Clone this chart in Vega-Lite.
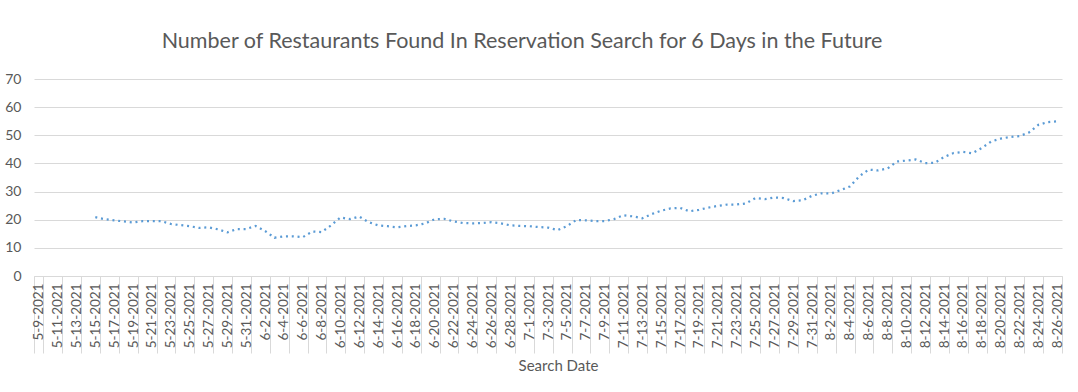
{
  "$schema": "https://vega.github.io/schema/vega-lite/v6.json",
  "width": 1028,
  "height": 197,
  "autosize": {"type": "none"},
  "padding": {"left": 34, "top": 79, "right": 16, "bottom": 116},
  "background": "white",
  "title": {
    "text": "Number of Restaurants Found In Reservation Search for 6 Days in the Future",
    "font": "Lato",
    "fontSize": 21.5,
    "fontWeight": "normal",
    "color": "#595959",
    "anchor": "middle",
    "dx": -26,
    "offset": 20
  },
  "config": {
    "view": {"stroke": null},
    "font": "Lato"
  },
  "data": {
    "values": [
      {"date": "5-15-2021", "count": 20.9},
      {"date": "5-16-2021", "count": 20.2},
      {"date": "5-17-2021", "count": 19.8},
      {"date": "5-18-2021", "count": 19.4},
      {"date": "5-19-2021", "count": 19.0},
      {"date": "5-20-2021", "count": 19.5},
      {"date": "5-21-2021", "count": 19.5},
      {"date": "5-22-2021", "count": 19.5},
      {"date": "5-23-2021", "count": 18.5},
      {"date": "5-24-2021", "count": 18.1},
      {"date": "5-25-2021", "count": 17.7},
      {"date": "5-26-2021", "count": 17.1},
      {"date": "5-27-2021", "count": 17.3},
      {"date": "5-28-2021", "count": 16.6},
      {"date": "5-29-2021", "count": 15.5},
      {"date": "5-30-2021", "count": 16.7},
      {"date": "5-31-2021", "count": 16.7},
      {"date": "6-1-2021", "count": 17.8},
      {"date": "6-2-2021", "count": 16.0},
      {"date": "6-3-2021", "count": 13.6},
      {"date": "6-4-2021", "count": 14.1},
      {"date": "6-5-2021", "count": 14.1},
      {"date": "6-6-2021", "count": 13.8},
      {"date": "6-7-2021", "count": 15.8},
      {"date": "6-8-2021", "count": 15.6},
      {"date": "6-9-2021", "count": 18.0},
      {"date": "6-10-2021", "count": 20.8},
      {"date": "6-11-2021", "count": 20.2},
      {"date": "6-12-2021", "count": 21.1},
      {"date": "6-13-2021", "count": 19.1},
      {"date": "6-14-2021", "count": 18.0},
      {"date": "6-15-2021", "count": 17.7},
      {"date": "6-16-2021", "count": 17.3},
      {"date": "6-17-2021", "count": 17.7},
      {"date": "6-18-2021", "count": 18.0},
      {"date": "6-19-2021", "count": 18.7},
      {"date": "6-20-2021", "count": 20.2},
      {"date": "6-21-2021", "count": 20.3},
      {"date": "6-22-2021", "count": 19.4},
      {"date": "6-23-2021", "count": 18.8},
      {"date": "6-24-2021", "count": 18.7},
      {"date": "6-25-2021", "count": 18.8},
      {"date": "6-26-2021", "count": 19.1},
      {"date": "6-27-2021", "count": 18.7},
      {"date": "6-28-2021", "count": 18.0},
      {"date": "6-29-2021", "count": 17.8},
      {"date": "7-1-2021", "count": 17.7},
      {"date": "7-2-2021", "count": 17.4},
      {"date": "7-3-2021", "count": 17.2},
      {"date": "7-4-2021", "count": 16.3},
      {"date": "7-5-2021", "count": 17.7},
      {"date": "7-6-2021", "count": 19.9},
      {"date": "7-7-2021", "count": 19.8},
      {"date": "7-8-2021", "count": 19.5},
      {"date": "7-9-2021", "count": 19.5},
      {"date": "7-10-2021", "count": 20.2},
      {"date": "7-11-2021", "count": 21.6},
      {"date": "7-12-2021", "count": 21.2},
      {"date": "7-13-2021", "count": 20.5},
      {"date": "7-14-2021", "count": 22.0},
      {"date": "7-15-2021", "count": 23.2},
      {"date": "7-16-2021", "count": 24.0},
      {"date": "7-17-2021", "count": 24.2},
      {"date": "7-18-2021", "count": 23.0},
      {"date": "7-19-2021", "count": 23.5},
      {"date": "7-20-2021", "count": 24.3},
      {"date": "7-21-2021", "count": 24.9},
      {"date": "7-22-2021", "count": 25.4},
      {"date": "7-23-2021", "count": 25.4},
      {"date": "7-24-2021", "count": 25.8},
      {"date": "7-25-2021", "count": 27.7},
      {"date": "7-26-2021", "count": 27.3},
      {"date": "7-27-2021", "count": 27.9},
      {"date": "7-28-2021", "count": 27.7},
      {"date": "7-29-2021", "count": 26.6},
      {"date": "7-30-2021", "count": 26.9},
      {"date": "7-31-2021", "count": 28.5},
      {"date": "8-1-2021", "count": 29.4},
      {"date": "8-2-2021", "count": 29.3},
      {"date": "8-3-2021", "count": 30.5},
      {"date": "8-4-2021", "count": 31.8},
      {"date": "8-5-2021", "count": 35.4},
      {"date": "8-6-2021", "count": 37.8},
      {"date": "8-7-2021", "count": 37.5},
      {"date": "8-8-2021", "count": 38.2},
      {"date": "8-9-2021", "count": 40.7},
      {"date": "8-10-2021", "count": 41.0},
      {"date": "8-11-2021", "count": 41.4},
      {"date": "8-12-2021", "count": 40.1},
      {"date": "8-13-2021", "count": 40.2},
      {"date": "8-14-2021", "count": 42.3},
      {"date": "8-15-2021", "count": 43.7},
      {"date": "8-16-2021", "count": 44.1},
      {"date": "8-17-2021", "count": 43.6},
      {"date": "8-18-2021", "count": 45.5},
      {"date": "8-19-2021", "count": 47.8},
      {"date": "8-20-2021", "count": 48.8},
      {"date": "8-21-2021", "count": 49.4},
      {"date": "8-22-2021", "count": 49.7},
      {"date": "8-23-2021", "count": 51.0},
      {"date": "8-24-2021", "count": 53.7},
      {"date": "8-25-2021", "count": 54.7},
      {"date": "8-26-2021", "count": 55.0}
    ]
  },
  "mark": {
    "type": "line",
    "color": "#5b9bd5",
    "strokeWidth": 2.25,
    "strokeDash": [2, 3.8],
    "strokeCap": "butt",
    "interpolate": "linear"
  },
  "encoding": {
    "x": {
      "field": "date",
      "type": "ordinal",
      "bandPosition": 0.5,
      "title": "Search Date",
      "scale": {
        "type": "band",
        "paddingInner": 0,
        "paddingOuter": 0,
        "domain": ["5-9-2021","5-10-2021","5-11-2021","5-12-2021","5-13-2021","5-14-2021","5-15-2021","5-16-2021","5-17-2021","5-18-2021","5-19-2021","5-20-2021","5-21-2021","5-22-2021","5-23-2021","5-24-2021","5-25-2021","5-26-2021","5-27-2021","5-28-2021","5-29-2021","5-30-2021","5-31-2021","6-1-2021","6-2-2021","6-3-2021","6-4-2021","6-5-2021","6-6-2021","6-7-2021","6-8-2021","6-9-2021","6-10-2021","6-11-2021","6-12-2021","6-13-2021","6-14-2021","6-15-2021","6-16-2021","6-17-2021","6-18-2021","6-19-2021","6-20-2021","6-21-2021","6-22-2021","6-23-2021","6-24-2021","6-25-2021","6-26-2021","6-27-2021","6-28-2021","6-29-2021","7-1-2021","7-2-2021","7-3-2021","7-4-2021","7-5-2021","7-6-2021","7-7-2021","7-8-2021","7-9-2021","7-10-2021","7-11-2021","7-12-2021","7-13-2021","7-14-2021","7-15-2021","7-16-2021","7-17-2021","7-18-2021","7-19-2021","7-20-2021","7-21-2021","7-22-2021","7-23-2021","7-24-2021","7-25-2021","7-26-2021","7-27-2021","7-28-2021","7-29-2021","7-30-2021","7-31-2021","8-1-2021","8-2-2021","8-3-2021","8-4-2021","8-5-2021","8-6-2021","8-7-2021","8-8-2021","8-9-2021","8-10-2021","8-11-2021","8-12-2021","8-13-2021","8-14-2021","8-15-2021","8-16-2021","8-17-2021","8-18-2021","8-19-2021","8-20-2021","8-21-2021","8-22-2021","8-23-2021","8-24-2021","8-25-2021","8-26-2021"]
      },
      "axis": {
        "values": ["5-9-2021","5-11-2021","5-13-2021","5-15-2021","5-17-2021","5-19-2021","5-21-2021","5-23-2021","5-25-2021","5-27-2021","5-29-2021","5-31-2021","6-2-2021","6-4-2021","6-6-2021","6-8-2021","6-10-2021","6-12-2021","6-14-2021","6-16-2021","6-18-2021","6-20-2021","6-22-2021","6-24-2021","6-26-2021","6-28-2021","7-1-2021","7-3-2021","7-5-2021","7-7-2021","7-9-2021","7-11-2021","7-13-2021","7-15-2021","7-17-2021","7-19-2021","7-21-2021","7-23-2021","7-25-2021","7-27-2021","7-29-2021","7-31-2021","8-2-2021","8-4-2021","8-6-2021","8-8-2021","8-10-2021","8-12-2021","8-14-2021","8-16-2021","8-18-2021","8-20-2021","8-22-2021","8-24-2021","8-26-2021"],
        "tickBand": "extent",
        "tickSize": 77,
        "tickColor": "#d9d9d9",
        "tickWidth": 1,
        "domainColor": "#d9d9d9",
        "domainWidth": 1,
        "labelAngle": -90,
        "labelAlign": "right",
        "labelBaseline": "middle",
        "labelPadding": -70,
        "labelFontSize": 13.5,
        "labelColor": "#595959",
        "labelFont": "Lato",
        "labelOverlap": false,
        "grid": false,
        "titleFont": "Lato",
        "titleFontSize": 15,
        "titleFontWeight": "normal",
        "titleColor": "#595959",
        "titlePadding": 5,
        "titleX": 524
      }
    },
    "y": {
      "field": "count",
      "type": "quantitative",
      "title": null,
      "scale": {"domain": [0, 70], "nice": false},
      "axis": {
        "values": [0, 10, 20, 30, 40, 50, 60, 70],
        "domain": false,
        "ticks": false,
        "grid": true,
        "gridColor": "#d9d9d9",
        "gridWidth": 1,
        "labelPadding": 13,
        "labelFontSize": 14,
        "labelColor": "#595959",
        "labelFont": "Lato"
      }
    }
  }
}
